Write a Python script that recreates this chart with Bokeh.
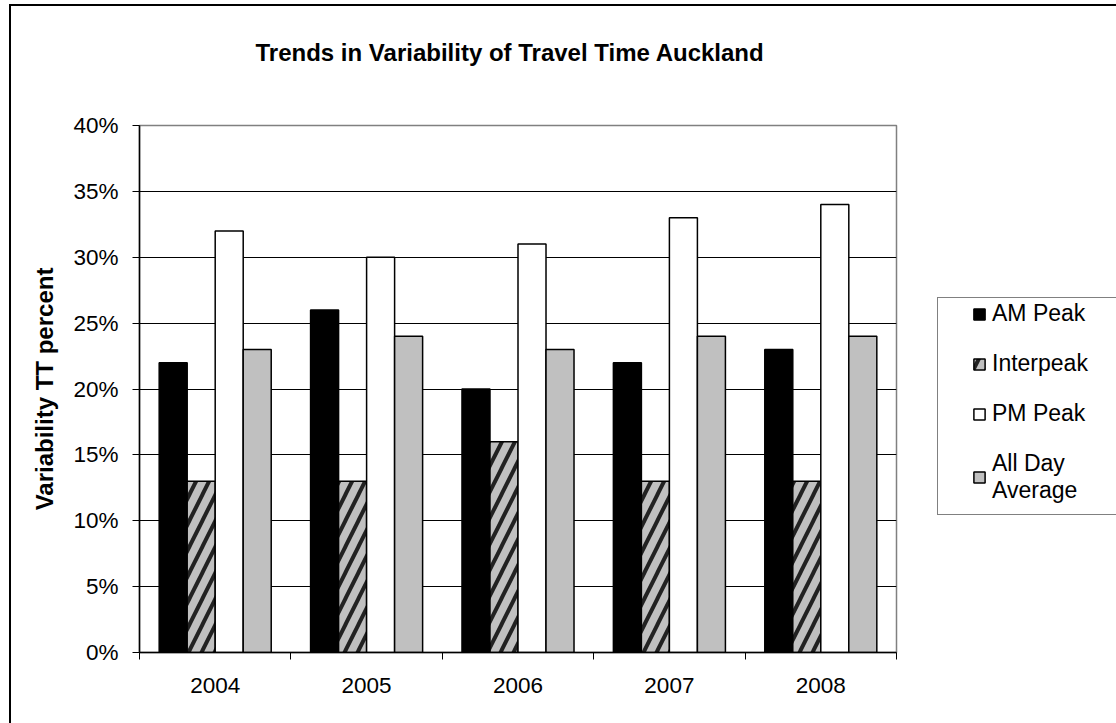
from bokeh.plotting import figure
from bokeh.models import (ColumnDataSource, FixedTicker, PrintfTickFormatter, Legend,
                          LegendItem, Range1d)
from bokeh.transform import dodge
from bokeh.embed import file_html
from bokeh.resources import INLINE

# ---- data ----
years = ["2004", "2005", "2006", "2007", "2008"]
series_names = ["AM Peak", "Interpeak", "PM Peak", "All Day\nAverage"]
am_peak = [22, 26, 20, 22, 23]
interpeak = [13, 13, 16, 13, 13]
pm_peak = [32, 30, 31, 33, 34]
all_day_average = [23, 24, 23, 24, 24]
y_ticks = [0, 5, 10, 15, 20, 25, 30, 35, 40]
title_text = "Trends in Variability of Travel Time Auckland"

FONT = "Liberation Sans"

centers = [i + 0.5 for i in range(len(years))]
src = ColumnDataSource(dict(x=centers, am=am_peak, inter=interpeak, pm=pm_peak, allday=all_day_average))

p = figure(frame_width=757, frame_height=527, output_backend="svg", toolbar_location=None,
           x_range=Range1d(0, len(years)), y_range=Range1d(0, 40),
           min_border_left=139, min_border_right=220, min_border_top=125, min_border_bottom=71)

# second (blank) line reserves space so the title sits higher above the frame
p.title.text = title_text + "\n "
p.title.text_font = FONT
p.title.text_font_size = "24px"
p.title.text_font_style = "bold"
p.title.text_color = "black"
p.title.align = "left"
p.title.vertical_align = "top"
p.title.offset = 116
p.title.standoff = 62

bw = 0.185
common = dict(source=src, width=bw, line_color="black", line_width=1.5)
r_am = p.vbar(x=dodge("x", -1.5 * bw, range=p.x_range), top="am", fill_color="black", **common)
r_in = p.vbar(x=dodge("x", -0.5 * bw, range=p.x_range), top="inter", fill_color="#c0c0c0",
              hatch_pattern="/", hatch_color="#222222", hatch_scale=26, hatch_weight=4, **common)
r_pm = p.vbar(x=dodge("x", 0.5 * bw, range=p.x_range), top="pm", fill_color="white", **common)
r_ad = p.vbar(x=dodge("x", 1.5 * bw, range=p.x_range), top="allday", fill_color="#c0c0c0", **common)

# axes
p.xaxis.ticker = FixedTicker(ticks=centers, minor_ticks=list(range(len(years) + 1)))
p.xaxis.major_label_overrides = {c: y for c, y in zip(centers, years)}
p.xaxis.major_tick_out = 0
p.xaxis.major_tick_in = 0
p.xaxis.minor_tick_out = 7
p.xaxis.minor_tick_in = 0
p.xaxis.minor_tick_line_color = "black"
p.xaxis.major_label_standoff = 18

p.yaxis.ticker = FixedTicker(ticks=y_ticks, minor_ticks=[])
p.yaxis.formatter = PrintfTickFormatter(format="%d%%")
p.yaxis.major_tick_out = 7
p.yaxis.major_tick_in = 0
p.yaxis.major_label_standoff = 14
p.yaxis.axis_label = "Variability TT percent"
p.yaxis.axis_label_text_font = FONT
p.yaxis.axis_label_text_font_size = "24px"
p.yaxis.axis_label_text_font_style = "bold"
p.yaxis.axis_label_text_color = "black"
p.yaxis.axis_label_standoff = 12

for ax in (p.xaxis, p.yaxis):
    ax.axis_line_color = "black"
    ax.axis_line_width = 1.5
    ax.major_tick_line_color = "black"
    ax.major_label_text_font = FONT
    ax.major_label_text_font_size = "22.5px"
    ax.major_label_text_color = "black"

p.xgrid.visible = False
p.ygrid.ticker = FixedTicker(ticks=y_ticks[1:-1])
p.ygrid.grid_line_color = "black"
p.ygrid.grid_line_width = 1

p.outline_line_color = "#808080"
p.outline_line_width = 1.5
p.background_fill_color = "white"
p.border_fill_color = "white"

legend = Legend(items=[LegendItem(label=n, renderers=[r]) for n, r in
                       zip(series_names, [r_am, r_in, r_pm, r_ad])],
                location=(76, 148), padding=0, spacing=23, margin=0,
                glyph_width=14, glyph_height=14, label_standoff=6,
                label_text_font=FONT, label_text_font_size="23px", label_text_color="black",
                border_line_alpha=0, background_fill_alpha=0)
p.add_layout(legend, "right")

# outer chart border and legend frame (decoration only)
p.stylesheets = ["""
:host::before { content: ""; position: absolute; left: 9px; top: 4px; right: 0; bottom: 0;
  border-left: 2px solid #000; border-top: 2px solid #000; z-index: 10; pointer-events: none; }
:host::after { content: ""; position: absolute; left: 937px; top: 297px; right: 0; height: 218px;
  box-sizing: border-box; border: 1.5px solid #808080; border-right: none; z-index: 10; pointer-events: none; }
"""]

open("out.html", "w").write(file_html(p, INLINE))
